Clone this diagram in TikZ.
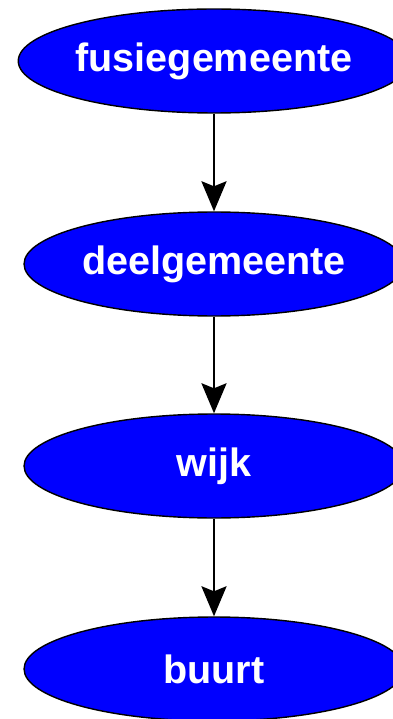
\documentclass[tikz,border=0pt]{standalone}
\usepackage{fontspec}
\setmainfont{Liberation Sans}
\usetikzlibrary{shapes.geometric,arrows.meta}
\definecolor{nodeblue}{RGB}{0,0,255}
\tikzset{
  niveau/.style={ellipse, draw=black, line width=0.8pt, fill=nodeblue, text=white,
    minimum width=7.6cm, minimum height=2.08cm, inner sep=0pt,
    font=\bfseries\fontsize{22.5}{27}\selectfont},
  pijl/.style={-{Stealth[length=0.6cm,width=0.5cm,inset=0.1cm]}, line width=0.055cm}
}
\begin{document}
\begin{tikzpicture}[x=0.02cm,y=-0.02cm]
\useasboundingbox (0,0) rectangle (392,719);
\node[niveau] (fusie) at (214,61) {fusiegemeente};
\node[niveau] (deel) at (214,264) {deelgemeente};
\node[niveau] (wijk) at (214,466) {wijk};
\node[niveau] (buurt) at (214,669) {buurt};

\draw[pijl] (fusie.south) -- (deel.north);
\draw[pijl] (deel.south) -- (wijk.north);
\draw[pijl] (wijk.south) -- (buurt.north);
\end{tikzpicture}
\end{document}
